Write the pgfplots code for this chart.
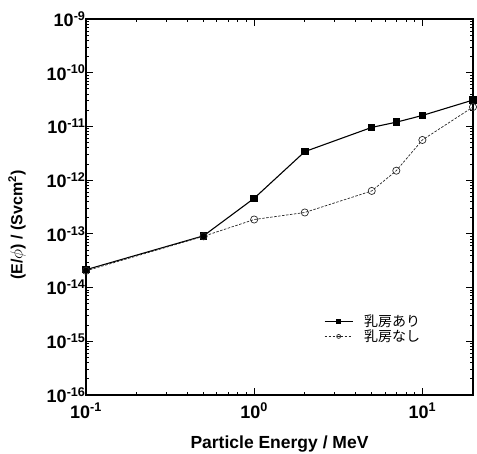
\documentclass[border=0pt]{standalone}
\usepackage{fontspec}
\setmainfont{Liberation Sans}
\newfontfamily\cjk{Noto Sans CJK JP}
\usepackage{pgfplots}
\pgfplotsset{compat=1.18}

\begin{document}
\begin{tikzpicture}
\begin{axis}[
  name=ax,
  scale only axis, width=387pt, height=376pt,
  xmode=log, ymode=log,
  xmin=0.1, xmax=20, ymin=1e-16, ymax=1e-9,
  axis line style={line width=1.3pt},
  tick align=inside,
  major tick length=7pt, minor tick length=3.5pt,
  tick style={black, line width=0.8pt},
  xtick={0.1,1,10},
  xticklabels={10\textsuperscript{-1},10\textsuperscript{0},10\textsuperscript{1}},
  ytick={1e-16,1e-15,1e-14,1e-13,1e-12,1e-11,1e-10,1e-9},
  yticklabels={10\textsuperscript{-16},10\textsuperscript{-15},10\textsuperscript{-14},10\textsuperscript{-13},10\textsuperscript{-12},10\textsuperscript{-11},10\textsuperscript{-10},10\textsuperscript{-9}},
  tick label style={font=\fontsize{18}{20}\selectfont\bfseries},
  xticklabel style={anchor=base, yshift=-23pt},
  yticklabel style={xshift=3pt},
  xlabel={Particle Energy / MeV},
  xlabel style={font=\fontsize{17.5}{19}\selectfont\bfseries,
    at={(axis description cs:0.5,0)}, anchor=base, yshift=-53pt},
  ylabel={(E/$\phi$) / (Svcm\textsuperscript{2})},
  ylabel style={font=\fontsize{16}{18}\selectfont\bfseries,
    at={(axis description cs:-0.178,0.452)}, anchor=center},
  legend cell align=left,
  legend style={draw=none, fill=none, at={(0.607,0.225)}, anchor=north west,
    font=\fontsize{14}{15}\selectfont\cjk, row sep=-2pt},
  legend image code/.code={
    \draw[mark repeat=2,mark phase=2,#1,mark size=2pt] plot coordinates {(0pt,0pt) (14pt,0pt) (28pt,0pt)};
    \path (37pt,0pt);
  },
]
\addplot[black, line width=1.1pt, mark=square*, mark size=3.2pt] coordinates {
(0.1,2.15e-14) (0.5,9.2e-14) (1,4.6e-13) (2,3.4e-12) (5,9.6e-12) (7,1.2e-11) (10,1.6e-11) (20,3.1e-11)};
\addlegendentry{乳房あり}
\addplot[black!85, line width=0.7pt, dash pattern=on 2.5pt off 1.5pt, mark=o, mark size=3.6pt, mark options={solid, fill=white}] coordinates {
(0.1,2.05e-14) (0.5,9.0e-14) (1,1.85e-13) (2,2.5e-13) (5,6.3e-13) (7,1.5e-12) (10,5.6e-12) (20,2.3e-11)};
\addlegendentry{乳房なし}
\end{axis}
\pgfresetboundingbox
\path ([shift={(-86pt,-59pt)}]ax.south west) rectangle ([shift={(4pt,19pt)}]ax.north east);
\end{tikzpicture}
\end{document}
